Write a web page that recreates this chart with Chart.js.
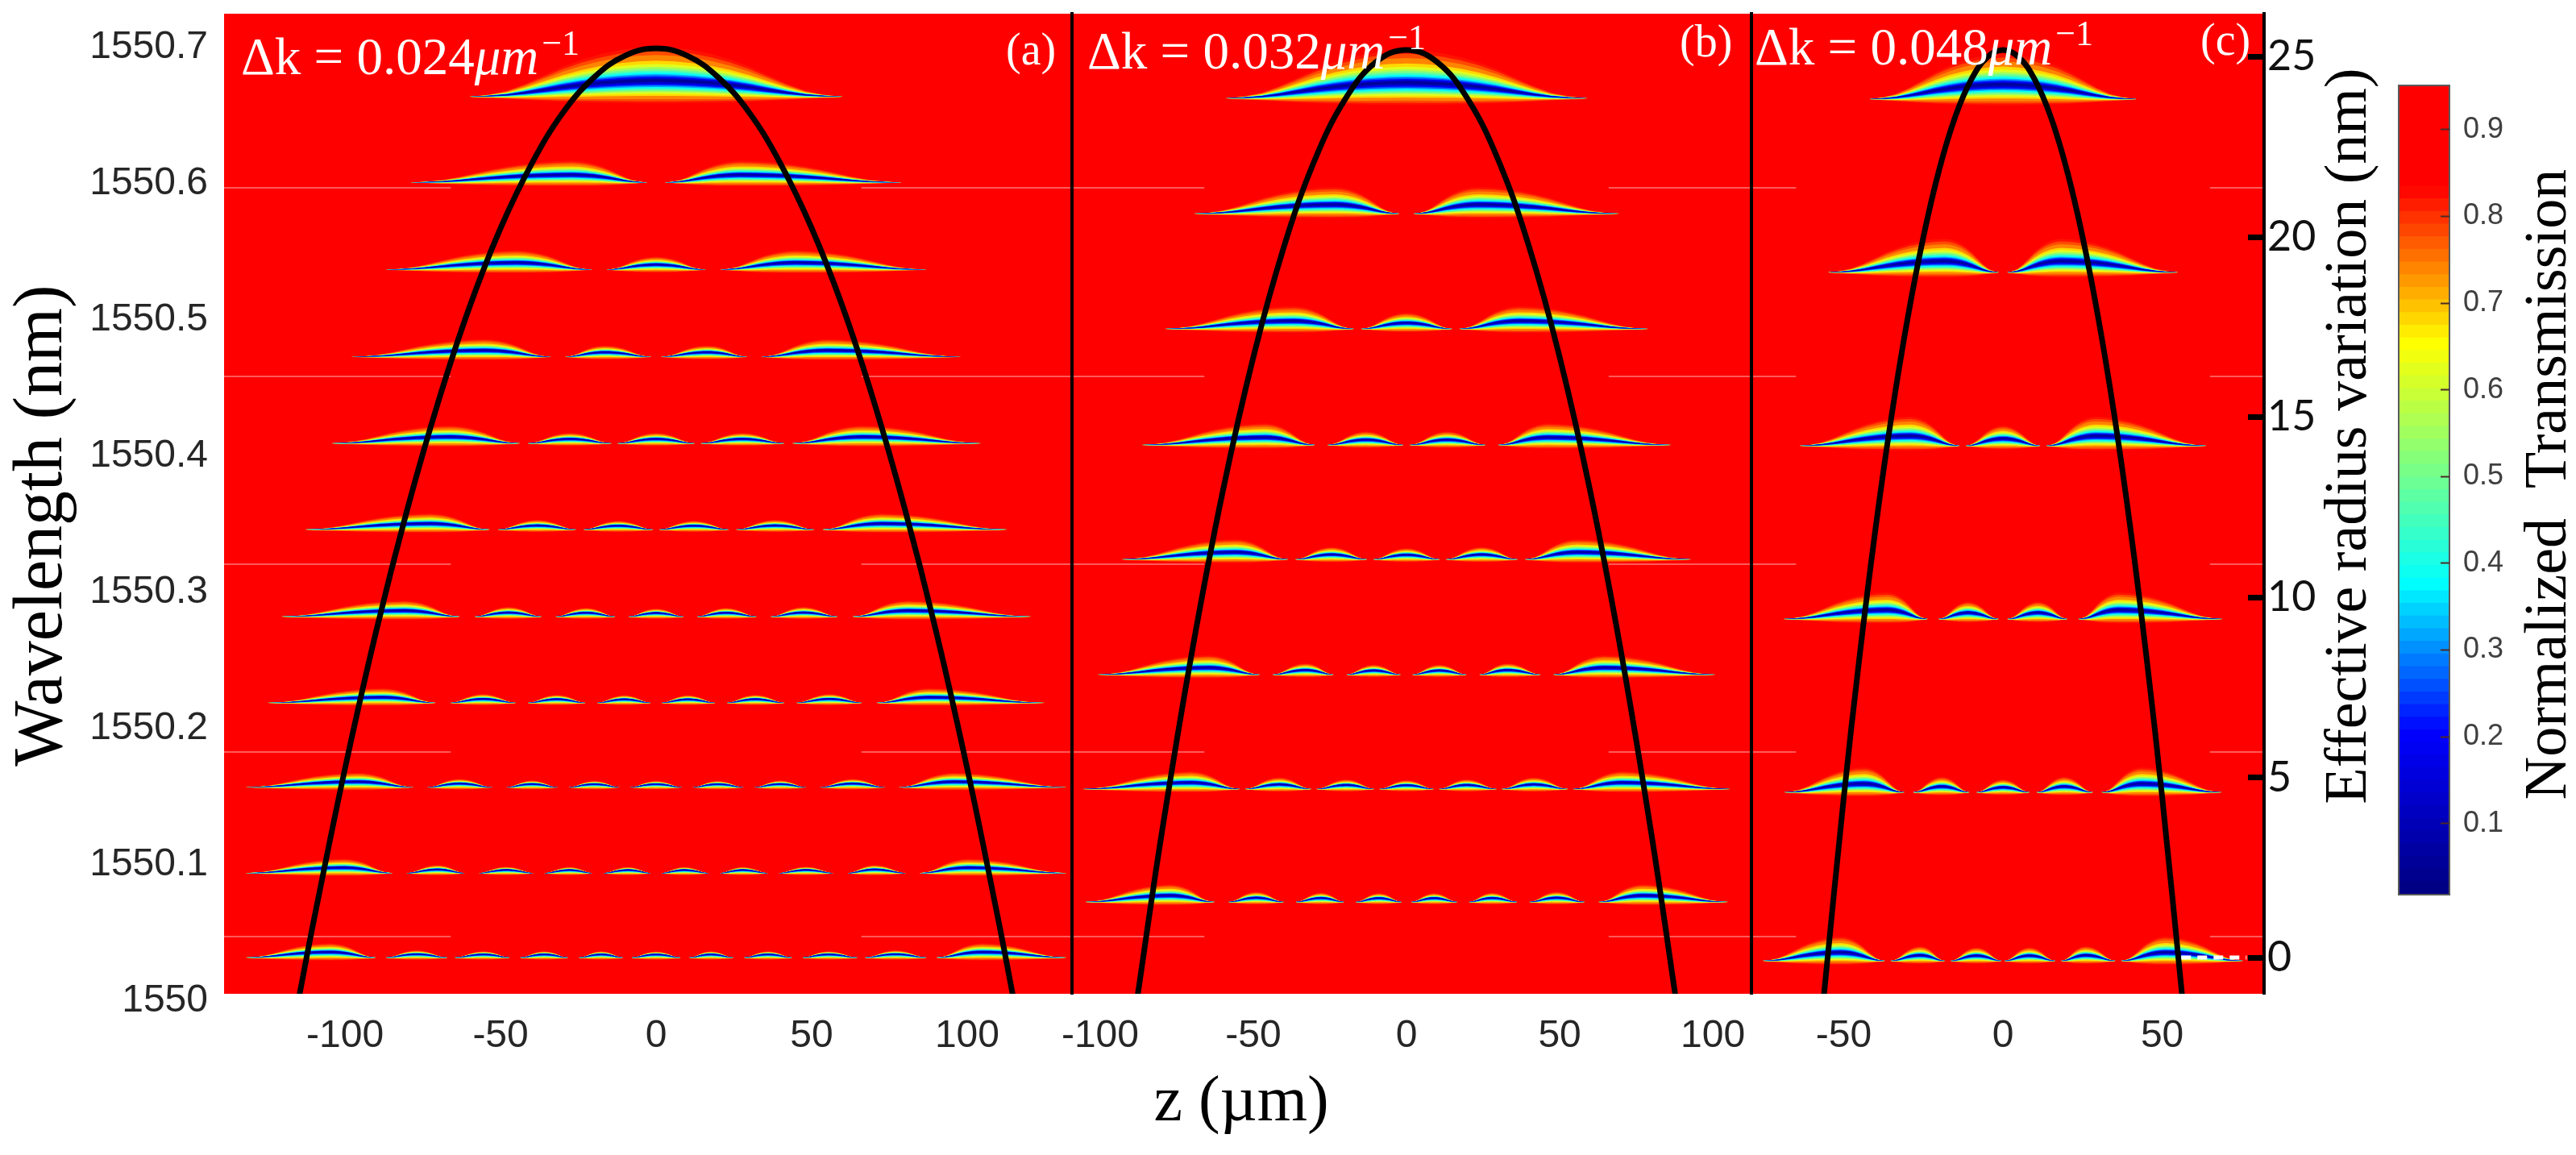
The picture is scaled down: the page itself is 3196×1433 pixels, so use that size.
<!DOCTYPE html>
<html>
<head>
<meta charset="utf-8">
<script src="https://cdn.jsdelivr.net/npm/chart.js@4/dist/chart.umd.min.js"></script>
<style>
  html, body { margin: 0; background: #fff; }
  canvas { position: absolute; top: 0; }
</style>
</head>
<body>
<canvas id="panelA" style="left:0"></canvas>
<canvas id="panelB" style="left:1300px"></canvas>
<canvas id="panelC" style="left:2140px"></canvas>
<canvas id="colorbar" style="left:2960px"></canvas>
<script>
// tick labels
const wavelengthTicks = [1550, 1550.1, 1550.2, 1550.3, 1550.4, 1550.5, 1550.6, 1550.7];
const zTicksAB = [-100, -50, 0, 50, 100];
const zTicksC = [-50, 0, 50];
const radiusTicks = [0, 5, 10, 15, 20, 25];
const transmissionTicks = [0.1, 0.2, 0.3, 0.4, 0.5, 0.6, 0.7, 0.8, 0.9];

// resonance rows: wavelength of each row's base (nm)
const rowWavelengthA = [1550.661, 1550.598, 1550.534, 1550.470, 1550.4065, 1550.3432, 1550.2793, 1550.2160, 1550.154, 1550.091, 1550.029];
const rowWavelengthB = [1550.6598, 1550.5751, 1550.4905, 1550.4053, 1550.3213, 1550.2367, 1550.1527, 1550.0698];
const rowWavelengthC = [1550.6592, 1550.5320, 1550.4047, 1550.2775, 1550.1503, 1550.0266];

// lobes per row, right half only (mirrored when drawn): [z foot in, z peak, z foot out, height nm]
const lobesA = [
  [[-60, 0, 60, 0.0367]],
  [[2.8, 27.2, 79, 0.016]],
  [[-16, 0, 16, 0.0095], [20.5, 44.8, 87, 0.0142]],
  [[1.5, 16.5, 29.3, 0.0083], [33.7, 55, 98, 0.013]],
  [[-12.6, 0, 12.6, 0.0077], [14.2, 27.7, 41.4, 0.0077], [43.7, 66.3, 104.5, 0.013]],
  [[0.8, 12.2, 23.5, 0.0065], [25.6, 38.2, 51, 0.0071], [53.4, 72.5, 113, 0.0118]],
  [[-9, 0, 9, 0.0059], [13, 22.5, 32.4, 0.0065], [36.7, 47.4, 58.5, 0.0071], [63, 80.8, 120.7, 0.0118]],
  [[1.6, 10.2, 19.1, 0.0056], [22.6, 31.9, 41.4, 0.0059], [45, 55.7, 66.3, 0.0065], [70.8, 87.8, 125, 0.0107]],
  [[-8.4, 0, 8.4, 0.0047], [11.7, 19.8, 28.2, 0.0047], [31.6, 39.9, 48.2, 0.005], [52.6, 63.2, 73.6, 0.0062], [78, 95.8, 132, 0.0107]],
  [[1.7, 9, 17, 0.0045], [20.5, 27.8, 36, 0.0045], [39.4, 48.2, 57, 0.0047], [61.5, 70.2, 80.3, 0.0059], [84.7, 100.3, 132, 0.0105]],
  [[-8, 0, 8, 0.0045], [10.6, 17.6, 24.9, 0.0047], [28.2, 36, 43.8, 0.0047], [47, 55.4, 64.8, 0.0047], [67, 77, 87, 0.0053], [90, 104.7, 132, 0.0105]]
];
const lobesB = [
  [[-59, 0, 59, 0.0355]],
  [[2.2, 23.4, 69.5, 0.0195]],
  [[-15, 0, 15, 0.0118], [17.1, 36.8, 79, 0.0166]],
  [[0.9, 13.2, 25.9, 0.0099], [29.8, 46, 86.5, 0.0158]],
  [[-11, 0, 11, 0.0083], [12.7, 24.5, 36.4, 0.0091], [38.6, 55.7, 93, 0.0148]],
  [[1.8, 10.7, 19.7, 0.0073], [23.7, 32.9, 43.9, 0.0083], [47.8, 64.5, 100.9, 0.0142]],
  [[-9, 0, 9, 0.0065], [10.5, 19.6, 29.5, 0.0071], [31, 41.5, 52.8, 0.0085], [54.3, 70.2, 105.8, 0.013]],
  [[1.5, 9, 16.6, 0.0065], [20.3, 27.9, 36.2, 0.0068], [40, 49, 58.2, 0.0075], [62.6, 77, 105, 0.013]]
];
const lobesC = [
  [[-42, 0, 42, 0.0331]],
  [[1.3, 18.2, 55, 0.0247]],
  [[-11.8, 0, 11.8, 0.0148], [13.5, 29.1, 64, 0.0213]],
  [[1.3, 11, 20.3, 0.0128], [23.6, 36.3, 69, 0.0195]],
  [[-8.4, 0, 8.4, 0.0095], [10.5, 19.2, 28.3, 0.0114], [30.9, 43.5, 68.8, 0.0183]],
  [[0.4, 8.3, 16.5, 0.0099], [18.2, 26, 35.4, 0.0108], [37, 51, 75.5, 0.0178]]
];

// black curve, right half: z (um) and wavelength (nm)
const curveZA = [0, 10, 20, 30, 40, 50, 60, 70, 80, 90, 100, 110, 115];
const curveWlA = [1550.6964, 1550.6911, 1550.6751, 1550.6491, 1550.6118, 1550.5645, 1550.5065, 1550.4373, 1550.3580, 1550.2686, 1550.1680, 1550.0568, 1549.9976];
const curveZB = [0, 10, 20, 30, 40, 50, 60, 70, 80, 88];
const curveWlB = [1550.6953, 1550.6864, 1550.6592, 1550.6142, 1550.5509, 1550.4698, 1550.3710, 1550.2538, 1550.1189, 1549.9976];
const curveZC = [0, 5, 10, 15, 20, 25, 30, 35, 40, 45, 50, 56, 57];
const curveWlC = [1550.6953, 1550.6899, 1550.6734, 1550.6462, 1550.6077, 1550.5580, 1550.4976, 1550.4266, 1550.3444, 1550.2509, 1550.1467, 1550.0071, 1549.9822];

// faint lines at the sides of each panel
const faintWavelengths = [1550.5941, 1550.4556, 1550.3178, 1550.1799, 1550.0444];
const faintEdgeZ = [66, 66, 65];

// half a lobe, foot to peak distance u and relative height
const lobeU = [0, 0.1, 0.2, 0.3, 0.4, 0.5, 0.6, 0.7, 0.8, 0.9, 1];
const lobeP = [1, 0.98, 0.93, 0.85, 0.74, 0.6, 0.43, 0.26, 0.12, 0.04, 0];

// contour levels: transmission and how far it sits from the dark core
const levelT = [0.82, 0.78, 0.74, 0.68, 0.62, 0.56, 0.50, 0.44, 0.38, 0.32, 0.26, 0.20, 0.13, 0.06];
const levelDist = [1, 0.88, 0.75, 0.58, 0.48, 0.40, 0.34, 0.28, 0.23, 0.18, 0.14, 0.10, 0.065, 0.03];

// colormap stops as seen on the colorbar
const cmapT = [0.018, 0.205, 0.376, 0.515, 0.653, 0.833, 0.951];
const cmapRGB = [[0, 0, 127], [0, 0, 255], [0, 255, 255], [128, 255, 128], [255, 255, 0], [255, 0, 0], [255, 0, 0]];
const colorbarMin = 0.018, colorbarMax = 0.951, colorbarSteps = 64;

function cmap(t) {
  for (let i = 1; i < cmapT.length; i++) {
    if (t <= cmapT[i]) {
      const k = Math.max(0, (t - cmapT[i - 1]) / (cmapT[i] - cmapT[i - 1]));
      const c = cmapRGB[i].map((v, j) => Math.round(cmapRGB[i - 1][j] + (v - cmapRGB[i - 1][j]) * k));
      return 'rgb(' + c.join(',') + ')';
    }
  }
  return 'rgb(255,0,0)';
}

function lobeLayers(wl, lobe) {
  const [a, b, c, h] = lobe;
  const coreH = 0.3 * h + 0.0012;
  const fringe = 0.0012 + 0.1 * h;
  const sets = [];
  levelT.forEach((t, k) => {
    const f = levelDist[k];
    const fl = Math.pow(f, 0.7);
    const up = [], down = [];
    for (let i = lobeU.length - 1; i > -lobeU.length; i--) {
      const u = lobeU[Math.abs(i)], p = lobeP[Math.abs(i)];
      const z = i >= 0 ? b - u * (b - a) : b + u * (c - b);
      const core = wl + coreH * p;
      up.push({ x: z, y: core + f * (h - coreH) * p });
      down.unshift({ x: z, y: core - fl * (coreH * p + fringe * Math.sqrt(p)) });
    }
    sets.push({
      data: up.concat(down), fill: 'shape', backgroundColor: cmap(t), borderWidth: 0,
      pointRadius: 0, tension: 0
    });
  });
  return sets;
}

function panelDatasets(rowWl, lobes, curveZ, curveWl, edgeZ, xMin, xMax, extra) {
  let layers = [];
  lobes.forEach((row, r) => {
    row.forEach(lobe => {
      layers = layers.concat(lobeLayers(rowWl[r], lobe));
      if (lobe[1] !== 0) {
        layers = layers.concat(lobeLayers(rowWl[r], [-lobe[2], -lobe[1], -lobe[0], lobe[3]]));
      }
    });
  });
  // dataset 0 is painted last, so the inner contours have to come before the outer ones
  layers.reverse();
  const curve = [];
  for (let i = curveZ.length - 1; i > 0; i--) curve.push({ x: -curveZ[i], y: curveWl[i] });
  curveZ.forEach((z, i) => curve.push({ x: z, y: curveWl[i] }));
  const top = [{ data: curve, borderColor: '#000', borderWidth: 7, pointRadius: 0, tension: 0.4, fill: false }];
  const faint = [];
  faintWavelengths.forEach(w => {
    [[xMin, -edgeZ], [edgeZ, xMax]].forEach(seg => {
      faint.push({
        data: [{ x: seg[0], y: w }, { x: seg[1], y: w }],
        borderColor: '#ff5a5a', borderWidth: 2, pointRadius: 0, fill: false
      });
    });
  });
  return (extra || []).concat(top, layers, faint);
}

// red background of the plot and text laid over it
const plotFill = {
  id: 'plotFill',
  beforeDraw(chart) {
    const a = chart.chartArea, ctx = chart.ctx;
    ctx.save();
    ctx.fillStyle = '#ff0000';
    ctx.fillRect(a.left, a.top, a.right - a.left, a.bottom - a.top);
    ctx.restore();
  }
};

const overlayText = {
  id: 'overlayText',
  afterDraw(chart, args, opts) {
    const ctx = chart.ctx;
    (opts.items || []).forEach(t => {
      ctx.save();
      ctx.font = t.font;
      ctx.fillStyle = t.color || '#000';
      ctx.textAlign = t.align || 'left';
      ctx.textBaseline = 'alphabetic';
      ctx.translate(t.x - opts.left, t.y);
      if (t.rot) ctx.rotate(t.rot);
      ctx.fillText(t.text, 0, 0);
      ctx.restore();
    });
    (opts.math || []).forEach(m => {
      ctx.save();
      ctx.fillStyle = '#fff';
      ctx.textBaseline = 'alphabetic';
      let x = m.x - opts.left;
      ctx.font = '65px "Liberation Serif"';
      ctx.fillText(m.text, x, m.y);
      x += ctx.measureText(m.text).width;
      ctx.font = 'italic 65px "Liberation Serif"';
      ctx.fillText('\u03bcm', x, m.y);
      x += ctx.measureText('\u03bcm').width + 4;
      ctx.font = '44px "Liberation Serif"';
      ctx.fillText('\u22121', x, m.y - 24);
      ctx.restore();
    });
  }
};

const tickFont = { family: '"Liberation Sans"', size: 48 };

// tick labels must not push the plot area around, the panels have to line up
function noAutoPad(s) {
  s.paddingTop = s.paddingBottom = s.paddingLeft = s.paddingRight = 0;
}

function xScale(min, max, ticks) {
  return {
    type: 'linear', min, max,
    afterBuildTicks: s => { s.ticks = ticks.map(value => ({ value })); },
    afterFit: s => { s.height = 200; noAutoPad(s); },
    border: { display: false },
    grid: { display: false, drawTicks: false },
    ticks: { font: tickFont, color: '#262626', padding: 24, maxRotation: 0, autoSkip: false, callback: v => String(v) }
  };
}

const wlMin = 1550.0024, wlMax = 1550.7219;

function makePanel(id, width, padding, datasets, scales, overlay) {
  const cv = document.getElementById(id);
  cv.width = width;
  cv.height = 1433;
  return new Chart(cv, {
    type: 'line',
    data: { datasets },
    plugins: [plotFill, overlayText],
    options: {
      responsive: false, animation: false, devicePixelRatio: 1,
      layout: { autoPadding: false, padding },
      plugins: { legend: { display: false }, tooltip: { enabled: false }, overlayText: overlay },
      events: [],
      scales
    }
  });
}

// y axis that is only the black divider between two panels
const dividerY = {
  position: 'left', min: wlMin, max: wlMax,
  afterFit: s => { s.width = 0; noAutoPad(s); },
  border: { display: true, color: '#000', width: 4, z: 2 },
  grid: { display: true, drawOnChartArea: false, drawTicks: false },
  ticks: { display: false }
};

makePanel('panelA', 1332, { left: 0, top: 17, right: 2, bottom: 0 },
  panelDatasets(rowWavelengthA, lobesA, curveZA, curveWlA, faintEdgeZ[0], -138.9, 133.7),
  {
    x: xScale(-138.9, 133.7, zTicksAB),
    y: {
      position: 'left', min: wlMin, max: wlMax,
      afterBuildTicks: s => { s.ticks = wavelengthTicks.map(value => ({ value })); },
      afterFit: s => { s.width = 278; noAutoPad(s); },
      border: { display: false },
      grid: { display: false, drawTicks: false },
      ticks: { font: tickFont, color: '#262626', padding: 20, labelOffset: 5, autoSkip: false, callback: v => String(v) }
    }
  },
  {
    left: 0,
    items: [
      { text: 'Wavelength (nm)', x: 76, y: 652, rot: -Math.PI / 2, align: 'center', font: '86px "Liberation Serif"' },
      { text: '(a)', x: 1248, y: 80, color: '#fff', font: '56px "Liberation Serif"' }
    ],
    math: [{ text: '\u0394k = 0.024', x: 299, y: 92 }]
  });

makePanel('panelB', 875, { left: 30, top: 17, right: 2, bottom: 0 },
  panelDatasets(rowWavelengthB, lobesB, curveZB, curveWlB, faintEdgeZ[1], -109.2, 112.6),
  { x: xScale(-109.2, 112.6, zTicksAB), y: dividerY },
  {
    left: 1300,
    items: [
      { text: 'z (\u00b5m)', x: 1540, y: 1390, align: 'center', font: '80px "Liberation Serif"' },
      { text: '(b)', x: 2084, y: 70, color: '#fff', font: '56px "Liberation Serif"' }
    ],
    math: [{ text: '\u0394k = 0.032', x: 1349, y: 85 }]
  });

// the short white dashes that continue the 0 nm level past the curve
const baseDash = [{
  data: [{ x: 56, y: 1550.0290 }, { x: 76.5, y: 1550.0290 }],
  borderColor: '#fff', borderWidth: 5, borderDash: [12, 8], pointRadius: 0, fill: false
}];

makePanel('panelC', 830, { left: 33, top: 17, right: 0, bottom: 0 },
  panelDatasets(rowWavelengthC, lobesC, curveZC, curveWlC, faintEdgeZ[2], -79, 82, baseDash),
  {
    x: xScale(-79, 82, zTicksC),
    y: dividerY,
    y1: {
      position: 'right', min: -1, max: 26.2,
      afterBuildTicks: s => { s.ticks = radiusTicks.map(value => ({ value })); },
      afterFit: s => { s.width = 161; noAutoPad(s); },
      border: { display: true, color: '#000', width: 4, z: 2 },
      grid: { display: true, drawOnChartArea: false, drawTicks: true, tickLength: -20, tickWidth: 7, tickColor: '#000', z: 2 },
      ticks: { font: { family: 'Lato', size: 52 }, color: '#111', padding: 24, autoSkip: false, callback: v => String(v) }
    }
  },
  {
    left: 2140,
    items: [
      { text: 'Effective radius variation (nm)', x: 2935, y: 541, rot: -Math.PI / 2, align: 'center', font: '74px "Liberation Serif"' },
      { text: '(c)', x: 2730, y: 68, color: '#fff', font: '56px "Liberation Serif"' }
    ],
    math: [{ text: '\u0394k = 0.048', x: 2177, y: 80 }]
  });

// colorbar: one floating bar per colour step
const barStep = (colorbarMax - colorbarMin) / colorbarSteps;
const barSets = [];
for (let i = 0; i < colorbarSteps; i++) {
  const lo = colorbarMin + i * barStep;
  barSets.push({
    data: [[lo, Math.min(colorbarMax, lo + barStep * 1.05)]],
    backgroundColor: cmap(lo + barStep / 2), barPercentage: 1, categoryPercentage: 1, grouped: false
  });
}
const barFrame = {
  id: 'barFrame',
  afterDatasetsDraw(chart) {
    const a = chart.chartArea, ctx = chart.ctx;
    ctx.save();
    ctx.strokeStyle = '#5a5a5a';
    ctx.lineWidth = 2;
    ctx.strokeRect(a.left, a.top, a.right - a.left, a.bottom - a.top);
    ctx.restore();
  }
};
const barCanvas = document.getElementById('colorbar');
barCanvas.width = 236;
barCanvas.height = 1433;
new Chart(barCanvas, {
  type: 'bar',
  data: { labels: ['T'], datasets: barSets },
  plugins: [barFrame, overlayText],
  options: {
    responsive: false, animation: false, devicePixelRatio: 1, events: [],
    layout: { autoPadding: false, padding: { left: 16, top: 106, right: 0, bottom: 323 } },
    plugins: {
      legend: { display: false }, tooltip: { enabled: false },
      overlayText: {
        left: 2960,
        items: [{ text: 'Normalized  Transmission', x: 3183, y: 601, rot: -Math.PI / 2, align: 'center', font: '74px "Liberation Serif"' }]
      }
    },
    scales: {
      x: { display: false },
      y: {
        position: 'right', min: colorbarMin, max: colorbarMax,
        afterBuildTicks: s => { s.ticks = transmissionTicks.map(value => ({ value })); },
        afterFit: s => { s.width = 157; noAutoPad(s); },
        border: { display: false },
        grid: { display: true, drawOnChartArea: false, drawTicks: true, tickLength: -11, tickWidth: 2, tickColor: '#4a2a2a', z: 2 },
        ticks: { font: { family: '"Liberation Sans"', size: 36 }, color: '#404040', padding: 28, autoSkip: false, callback: v => String(v) }
      }
    }
  }
});
</script>
</body>
</html>
